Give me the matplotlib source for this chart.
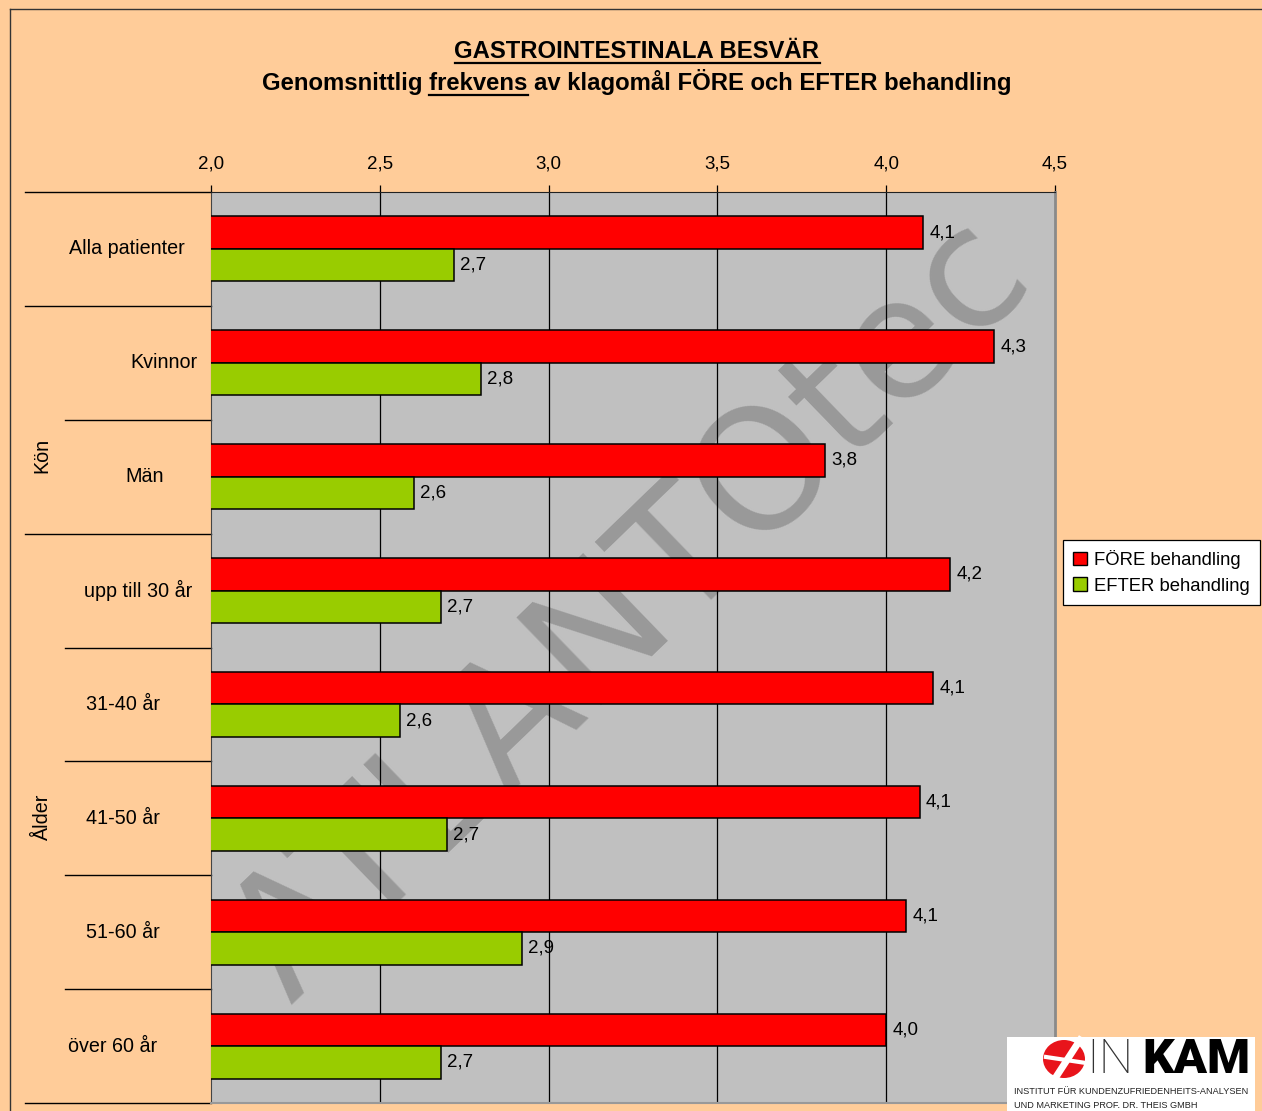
import matplotlib.pyplot as plt
from matplotlib.patches import Patch, Rectangle, Ellipse
from matplotlib.lines import Line2D

plt.rcParams['font.family'] = ['Liberation Sans', 'DejaVu Sans']

categories = ["Alla patienter", "Kvinnor", "Män", "upp till 30 år",
              "31-40 år", "41-50 år", "51-60 år", "över 60 år"]
fore = [4.11, 4.32, 3.82, 4.19, 4.14, 4.10, 4.06, 4.00]
efter = [2.72, 2.80, 2.60, 2.68, 2.56, 2.70, 2.92, 2.68]
groups = ["Kön", "Ålder"]
x_ticks = [2.0, 2.5, 3.0, 3.5, 4.0, 4.5]

W, H = 1262, 1111
BG = '#FFCC99'
RED = '#FF0000'
GREEN = '#99CC00'

fig = plt.figure(figsize=(W / 100, H / 100), dpi=100, facecolor=BG)
ax = fig.add_axes([211 / W, 1 - 1103 / H, 844 / W, 911 / H])
ax.set_facecolor('#C0C0C0')

# frame around the sheet
fig.add_artist(Line2D([10 / W, 10 / W], [0, 1 - 9 / H], transform=fig.transFigure, color='#333333', lw=1))
fig.add_artist(Line2D([10 / W, 1], [1 - 9 / H, 1 - 9 / H], transform=fig.transFigure, color='#333333', lw=1))

n = len(categories)
ys = list(range(n))
bh = 0.285
ax.barh([y - bh / 2 for y in ys], fore, height=bh, color=RED, edgecolor='black', lw=1.1, zorder=3)
ax.barh([y + bh / 2 for y in ys], efter, height=bh, color=GREEN, edgecolor='black', lw=1.1, zorder=3)

for y, v in zip(ys, fore):
    ax.text(v + 0.018, y - bh / 2, f"{v:.1f}".replace('.', ','), va='center', ha='left', fontsize=13.5, zorder=4)
for y, v in zip(ys, efter):
    ax.text(v + 0.018, y + bh / 2, f"{v:.1f}".replace('.', ','), va='center', ha='left', fontsize=13.5, zorder=4)

ax.set_xlim(2.0, 4.5)
ax.set_ylim(n - 0.5, -0.5)
for t in x_ticks[1:-1]:
    ax.axvline(t, color='black', lw=0.9, zorder=1)

ax.xaxis.tick_top()
ax.set_xticks(x_ticks)
ax.set_xticklabels([f"{t:.1f}".replace('.', ',') for t in x_ticks], fontsize=13.5)
ax.tick_params(axis='x', length=5, width=0.9, pad=9)
ax.set_yticks([])

ax.spines['top'].set_color('#222222')
ax.spines['left'].set_color('#444444')
ax.spines['right'].set_color('#8a8a8a')
ax.spines['right'].set_linewidth(2)
ax.spines['bottom'].set_color('#999999')
ax.spines['bottom'].set_linewidth(1.5)

# watermark behind the bars, anchored at the left foot of the first letter
ax.text(0.094, 0.108, "ATLANTOtec", transform=ax.transAxes, rotation=44, rotation_mode='anchor',
        ha='left', va='baseline', family='DejaVu Sans', fontsize=121, color='#999999',
        zorder=0.6, clip_on=True)

# hierarchical category axis on the left
ytr = ax.get_yaxis_transform()
outer_x = (25 - 211) / 844
inner_x = (65 - 211) / 844
for b in [-0.5, 0.5, 2.5, 7.5]:
    ax.plot([outer_x, 0], [b, b], transform=ytr, color='black', lw=1, clip_on=False)
for b in [1.5, 3.5, 4.5, 5.5, 6.5]:
    ax.plot([inner_x, 0], [b, b], transform=ytr, color='black', lw=1, clip_on=False)

label_px = [127, 164, 145, 138, 123, 123, 123, 113]
for y, name, px in zip(ys, categories, label_px):
    ax.text((px - 211) / 844, y, name, transform=ytr, ha='center', va='center', fontsize=14.2)

group_y = [1.81, 4.99]
for g, gy in zip(groups, group_y):
    ax.text((42 - 211) / 844, gy, g, transform=ytr, ha='center', va='center', rotation=90, fontsize=14.2)

# titles with underlines
TFS = 17.2
fig.text(637 / W, 1 - 51 / H, "GASTROINTESTINALA BESVÄR", ha='center', va='center',
         fontsize=TFS, fontweight='bold')
sub = "Genomsnittlig frekvens av klagomål FÖRE och EFTER behandling"
fig.text(637 / W, 1 - 82 / H, sub, ha='center', va='center', fontsize=TFS, fontweight='bold')

r = fig.canvas.get_renderer()
def text_w(s):
    t = fig.text(0, 0, s, fontsize=TFS, fontweight='bold')
    w = t.get_window_extent(r).width
    t.remove()
    return w

w_title = text_w("GASTROINTESTINALA BESVÄR")
fig.add_artist(Line2D([(637 - w_title / 2) / W, (637 + w_title / 2) / W], [1 - 63 / H, 1 - 63 / H],
                      transform=fig.transFigure, color='black', lw=1.6))
w_sub = text_w(sub)
left = 637 - w_sub / 2
u1 = left + text_w("Genomsnittlig frekvens") - text_w("frekvens")
u2 = left + text_w("Genomsnittlig frekvens")
fig.add_artist(Line2D([u1 / W, u2 / W], [1 - 94.5 / H, 1 - 94.5 / H],
                      transform=fig.transFigure, color='black', lw=1.6))

# legend
handles = [Patch(facecolor=RED, edgecolor='black', label='FÖRE behandling'),
           Patch(facecolor=GREEN, edgecolor='black', label='EFTER behandling')]
leg = fig.legend(handles=handles, loc='upper left', bbox_to_anchor=(1063 / W, 1 - 540 / H),
                 fontsize=13.3, frameon=True, fancybox=False, edgecolor='black', framealpha=1,
                 handlelength=0.75, handleheight=0.75, handletextpad=0.4, borderpad=0.55,
                 labelspacing=0.45, borderaxespad=0)
leg.get_frame().set_linewidth(0.9)

# INKAM logo
fig.add_artist(Rectangle((1007 / W, 0), 248 / W, 74 / H, transform=fig.transFigure,
                         facecolor='white', edgecolor='none', zorder=5))
fig.add_artist(Ellipse((1064 / W, 1 - 1059 / H), 42 / W, 38 / H, transform=fig.transFigure,
                       facecolor='#E8141B', edgecolor='none', zorder=6))
fig.add_artist(Line2D([1054 / W, 1080 / W], [1 - 1080 / H, 1 - 1040 / H], transform=fig.transFigure,
                      color='white', lw=5, zorder=7))
fig.add_artist(Line2D([1046 / W, 1086 / W], [1 - 1057 / H, 1 - 1063 / H], transform=fig.transFigure,
                      color='white', lw=3, zorder=7))
fig.text(1086 / W, 1 - 1060 / H, "IN", family='Roboto', fontweight='light', fontsize=35,
         color='#333333', va='center', ha='left', zorder=8)
fig.text(1142 / W, 1 - 1060 / H, "KAM", family='Roboto', fontweight='black', fontsize=35.5,
         color='black', va='center', ha='left', zorder=8)
fig.text(1014 / W, 1 - 1092 / H, "INSTITUT FÜR KUNDENZUFRIEDENHEITS-ANALYSEN", fontsize=6.6,
         color='#222222', va='center', ha='left', zorder=8)
fig.text(1014 / W, 1 - 1105 / H, "UND MARKETING PROF. DR. THEIS GMBH", fontsize=6.6,
         color='#222222', va='center', ha='left', zorder=8)

fig.savefig('out.png', dpi=100, facecolor=BG)
